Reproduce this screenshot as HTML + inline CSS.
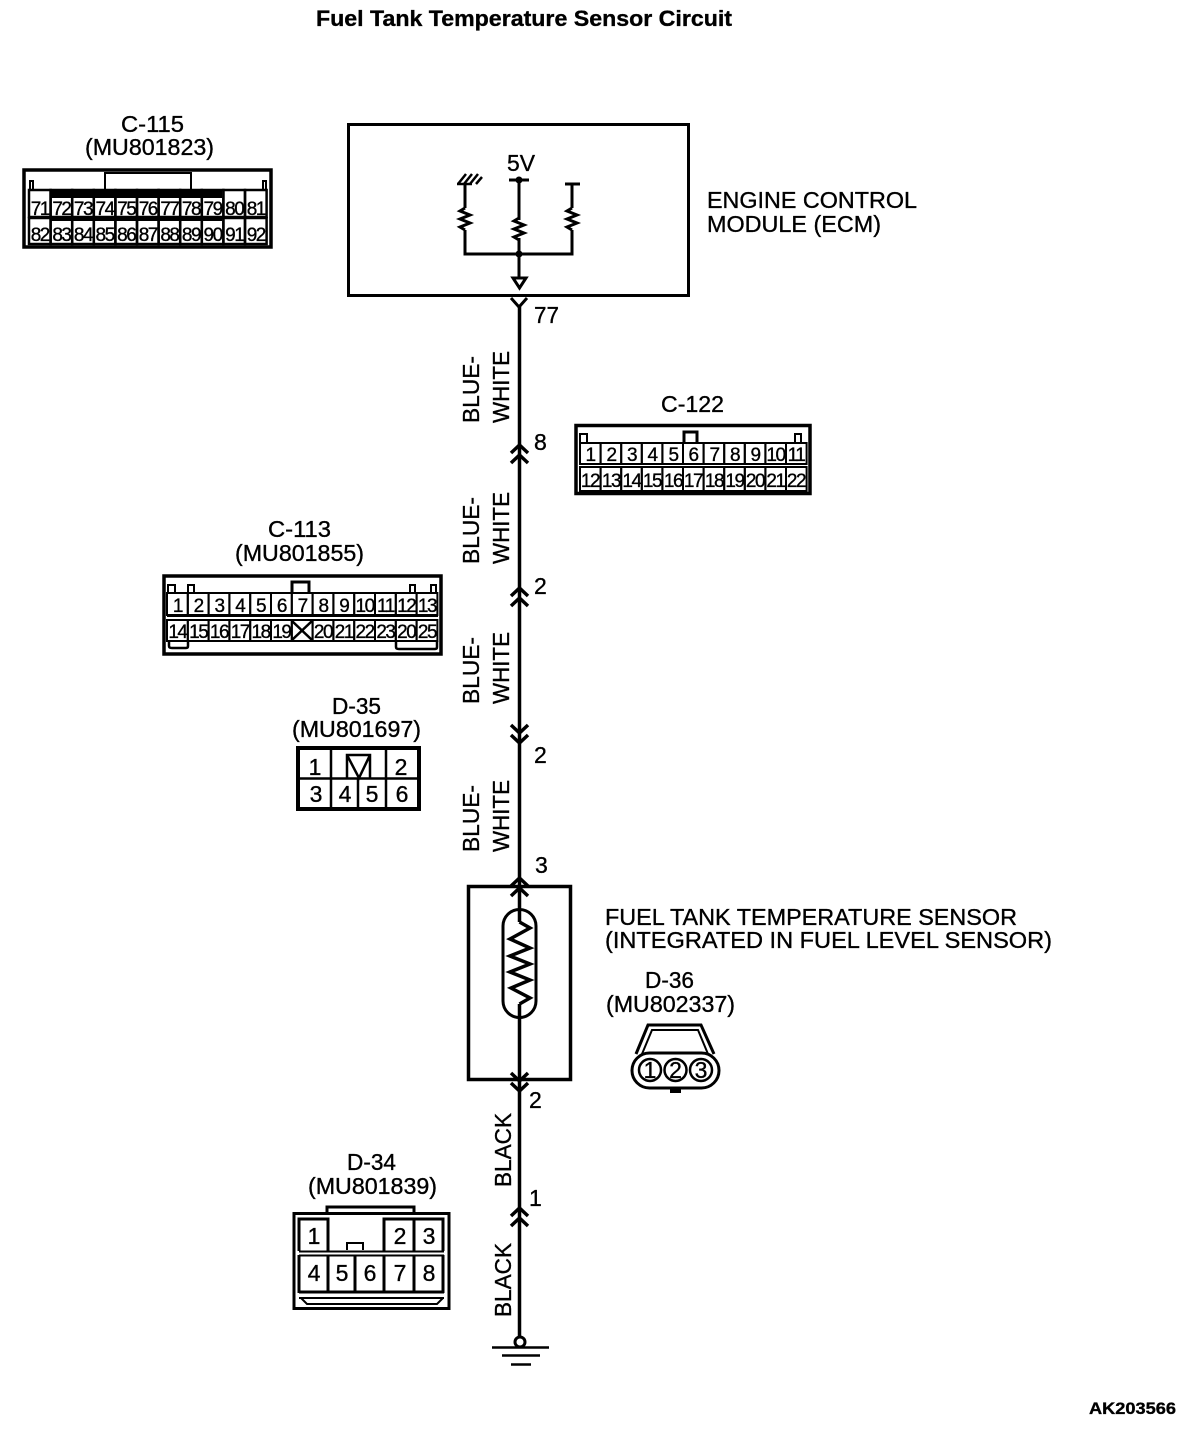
<!DOCTYPE html>
<html><head><meta charset="utf-8"><style>
html,body{margin:0;padding:0;background:#fff}
svg{display:block}
text{font-family:"Liberation Sans",sans-serif;fill:#000;font-size:23px;stroke:#000;stroke-width:.35px}
.c{font-size:19px;text-anchor:middle;letter-spacing:-1.5px}
.d{font-size:23px;text-anchor:middle}
.s{fill:none;stroke:#000}
</style></head><body>
<svg width="1200" height="1438" viewBox="0 0 1200 1438" xmlns="http://www.w3.org/2000/svg">
<text x="316" y="26" font-weight="bold" style="font-size:22px" textLength="416" lengthAdjust="spacingAndGlyphs">Fuel Tank Temperature Sensor Circuit</text>

<!-- C-115 -->
<text x="121" y="132" textLength="63" lengthAdjust="spacingAndGlyphs">C-115</text>
<text x="85" y="155" textLength="129" lengthAdjust="spacingAndGlyphs">(MU801823)</text>
<g class="s" stroke-width="3.500">
<rect x="24" y="170" width="247" height="77"/>
</g>
<g class="s" stroke-width="2">
<rect x="105" y="173" width="86" height="17"/>
<path d="M30 190V181h3v9M263 190V181h3v9"/>
</g>
<rect x="50" y="190" width="172" height="8"/>
<rect x="50" y="216" width="172" height="5"/>
<g class="s" stroke-width="2.500">
<rect x="29" y="190" width="21.600" height="27"/><rect x="50.600" y="190" width="21.600" height="27"/><rect x="72.200" y="190" width="21.600" height="27"/><rect x="93.800" y="190" width="21.600" height="27"/><rect x="115.400" y="190" width="21.600" height="27"/><rect x="137" y="190" width="21.600" height="27"/><rect x="158.600" y="190" width="21.600" height="27"/><rect x="180.200" y="190" width="21.600" height="27"/><rect x="201.800" y="190" width="21.600" height="27"/><rect x="223.400" y="190" width="21.600" height="27"/><rect x="245" y="190" width="21.600" height="27"/>
<rect x="29" y="218" width="21.600" height="26"/><rect x="50.600" y="218" width="21.600" height="26"/><rect x="72.200" y="218" width="21.600" height="26"/><rect x="93.800" y="218" width="21.600" height="26"/><rect x="115.400" y="218" width="21.600" height="26"/><rect x="137" y="218" width="21.600" height="26"/><rect x="158.600" y="218" width="21.600" height="26"/><rect x="180.200" y="218" width="21.600" height="26"/><rect x="201.800" y="218" width="21.600" height="26"/><rect x="223.400" y="218" width="21.600" height="26"/><rect x="245" y="218" width="21.600" height="26"/>
</g>
<text class="c" x="39.800" y="215">71</text><text class="c" x="61.400" y="215">72</text><text class="c" x="83" y="215">73</text><text class="c" x="104.600" y="215">74</text><text class="c" x="126.200" y="215">75</text><text class="c" x="147.800" y="215">76</text><text class="c" x="169.400" y="215">77</text><text class="c" x="191" y="215">78</text><text class="c" x="212.600" y="215">79</text><text class="c" x="234.200" y="215">80</text><text class="c" x="255.800" y="215">81</text>
<text class="c" x="39.800" y="241">82</text><text class="c" x="61.400" y="241">83</text><text class="c" x="83" y="241">84</text><text class="c" x="104.600" y="241">85</text><text class="c" x="126.200" y="241">86</text><text class="c" x="147.800" y="241">87</text><text class="c" x="169.400" y="241">88</text><text class="c" x="191" y="241">89</text><text class="c" x="212.600" y="241">90</text><text class="c" x="234.200" y="241">91</text><text class="c" x="255.800" y="241">92</text>

<!-- ECM -->
<rect class="s" stroke-width="3" x="348.500" y="124.500" width="340" height="171"/>
<text x="507" y="171" textLength="28" lengthAdjust="spacingAndGlyphs">5V</text>
<g class="s" stroke-width="3">
<path d="M457 184H472" stroke-width="2.500"/>
<path d="M458 184L466 174M464 184L472 174M470 184L478 174M476 184L482 177" stroke-width="2.500"/>
<path d="M465 184V208M519 180V220M572 184V208M465 230V254H572V230M519 238V277M509 180H529M565 184H580"/>
<path d="M465 208l-5 3l10 4l-10 4l10 4l-10 4l5 3" stroke-width="3"/>
<path d="M519 218l-5 3l10 4l-10 4l10 4l-10 4l5 3" stroke-width="3"/>
<path d="M572 208l-5 3l10 4l-10 4l10 4l-10 4l5 3" stroke-width="3"/>
<path d="M513 278H526L519.500 288Z" stroke-width="3"/>
<path d="M511 298L519 307L527 298"/>
</g>
<circle cx="519" cy="180" r="3.500"/><circle cx="519" cy="254" r="3.500"/>
<text x="707" y="208" textLength="210" lengthAdjust="spacingAndGlyphs">ENGINE CONTROL</text>
<text x="707" y="232" textLength="174" lengthAdjust="spacingAndGlyphs">MODULE (ECM)</text>

<!-- main wire -->
<path class="s" stroke-width="3.500" d="M519.500 305V922M519.500 1004V1338"/>
<g class="s" stroke-width="3.500">
<path d="M511 453L519.500 445L528 453M511 463L519.500 455L528 463"/>
<path d="M511 596L519.500 588L528 596M511 606L519.500 598L528 606"/>
<path d="M511 725L519.500 733L528 725M511 735L519.500 743L528 735"/>
<path d="M511 886L519.500 878L528 886M511 896L519.500 888L528 896"/>
<path d="M511 1073L519.500 1081L528 1073M511 1083L519.500 1091L528 1083"/>
<path d="M511 1216L519.500 1208L528 1216M511 1226L519.500 1218L528 1226"/>
</g>
<text x="534" y="323" textLength="25" lengthAdjust="spacingAndGlyphs">77</text>
<text x="534" y="450">8</text><text x="534" y="594">2</text><text x="534" y="763">2</text><text x="535" y="873">3</text>
<text x="529" y="1108">2</text><text x="529" y="1206">1</text>

<text transform="translate(479 423) rotate(-90)" textLength="67" lengthAdjust="spacingAndGlyphs">BLUE-</text>
<text transform="translate(509 423) rotate(-90)" textLength="72" lengthAdjust="spacingAndGlyphs">WHITE</text>
<text transform="translate(479 564) rotate(-90)" textLength="67" lengthAdjust="spacingAndGlyphs">BLUE-</text>
<text transform="translate(509 564) rotate(-90)" textLength="72" lengthAdjust="spacingAndGlyphs">WHITE</text>
<text transform="translate(479 704) rotate(-90)" textLength="67" lengthAdjust="spacingAndGlyphs">BLUE-</text>
<text transform="translate(509 704) rotate(-90)" textLength="72" lengthAdjust="spacingAndGlyphs">WHITE</text>
<text transform="translate(479 852) rotate(-90)" textLength="67" lengthAdjust="spacingAndGlyphs">BLUE-</text>
<text transform="translate(509 852) rotate(-90)" textLength="72" lengthAdjust="spacingAndGlyphs">WHITE</text>
<text transform="translate(511 1187) rotate(-90)" textLength="74" lengthAdjust="spacingAndGlyphs">BLACK</text>
<text transform="translate(511 1317) rotate(-90)" textLength="74" lengthAdjust="spacingAndGlyphs">BLACK</text>

<!-- C-122 -->
<text x="661" y="412" textLength="63" lengthAdjust="spacingAndGlyphs">C-122</text>
<rect class="s" stroke-width="3.500" x="576" y="425.500" width="234" height="68"/>
<g class="s" stroke-width="2">
<path d="M580 443V434h7v9M801 443V434h-6v9" stroke-width="2"/>
<path d="M684 443V432h13v11" stroke-width="3"/>
<rect x="580" y="443" width="20.600" height="21"/><rect x="600.600" y="443" width="20.600" height="21"/><rect x="621.200" y="443" width="20.600" height="21"/><rect x="641.800" y="443" width="20.600" height="21"/><rect x="662.400" y="443" width="20.600" height="21"/><rect x="683" y="443" width="20.600" height="21"/><rect x="703.600" y="443" width="20.600" height="21"/><rect x="724.200" y="443" width="20.600" height="21"/><rect x="744.800" y="443" width="20.600" height="21"/><rect x="765.400" y="443" width="20.600" height="21"/><rect x="786" y="443" width="20.600" height="21"/>
<rect x="580" y="467" width="20.600" height="24"/><rect x="600.600" y="467" width="20.600" height="24"/><rect x="621.200" y="467" width="20.600" height="24"/><rect x="641.800" y="467" width="20.600" height="24"/><rect x="662.400" y="467" width="20.600" height="24"/><rect x="683" y="467" width="20.600" height="24"/><rect x="703.600" y="467" width="20.600" height="24"/><rect x="724.200" y="467" width="20.600" height="24"/><rect x="744.800" y="467" width="20.600" height="24"/><rect x="765.400" y="467" width="20.600" height="24"/><rect x="786" y="467" width="20.600" height="24"/>
</g>
<text class="c" x="590" y="461">1</text><text class="c" x="611" y="461">2</text><text class="c" x="631.500" y="461">3</text><text class="c" x="652" y="461">4</text><text class="c" x="673" y="461">5</text><text class="c" x="693" y="461">6</text><text class="c" x="714" y="461">7</text><text class="c" x="734.500" y="461">8</text><text class="c" x="755" y="461">9</text><text class="c" x="775.500" y="461">10</text><text class="c" x="796" y="461">11</text>
<text class="c" x="590" y="487">12</text><text class="c" x="611" y="487">13</text><text class="c" x="631.500" y="487">14</text><text class="c" x="652" y="487">15</text><text class="c" x="673" y="487">16</text><text class="c" x="693" y="487">17</text><text class="c" x="714" y="487">18</text><text class="c" x="734.500" y="487">19</text><text class="c" x="755" y="487">20</text><text class="c" x="775.500" y="487">21</text><text class="c" x="796" y="487">22</text>

<!-- C-113 -->
<text x="268" y="537" textLength="63" lengthAdjust="spacingAndGlyphs">C-113</text>
<text x="235" y="561" textLength="129" lengthAdjust="spacingAndGlyphs">(MU801855)</text>
<rect class="s" stroke-width="3.500" x="164" y="576" width="277" height="78"/>
<g class="s" stroke-width="2">
<path d="M168 593V585h7v8M188 593V585h6v8M410 593V585h5v8M431 593V585h5v8" stroke-width="2"/>
<path d="M292 593V582h17v11" stroke-width="3"/>
<rect x="167" y="593" width="20.800" height="22"/><rect x="187.800" y="593" width="20.800" height="22"/><rect x="208.600" y="593" width="20.800" height="22"/><rect x="229.400" y="593" width="20.800" height="22"/><rect x="250.200" y="593" width="20.800" height="22"/><rect x="271" y="593" width="20.800" height="22"/><rect x="291.800" y="593" width="20.800" height="22"/><rect x="312.600" y="593" width="20.800" height="22"/><rect x="333.400" y="593" width="20.800" height="22"/><rect x="354.200" y="593" width="20.800" height="22"/><rect x="375" y="593" width="20.800" height="22"/><rect x="395.800" y="593" width="20.800" height="22"/><rect x="416.600" y="593" width="20.800" height="22"/>
<rect x="167" y="620" width="20.800" height="21"/><rect x="187.800" y="620" width="20.800" height="21"/><rect x="208.600" y="620" width="20.800" height="21"/><rect x="229.400" y="620" width="20.800" height="21"/><rect x="250.200" y="620" width="20.800" height="21"/><rect x="271" y="620" width="20.800" height="21"/><rect x="291.800" y="620" width="20.800" height="21"/><rect x="312.600" y="620" width="20.800" height="21"/><rect x="333.400" y="620" width="20.800" height="21"/><rect x="354.200" y="620" width="20.800" height="21"/><rect x="375" y="620" width="20.800" height="21"/><rect x="395.800" y="620" width="20.800" height="21"/><rect x="416.600" y="620" width="20.800" height="21"/>
<path d="M292 621L312 640M312 621L292 640" stroke-width="2.500"/>
<path d="M169 641v5q0 2 3 2h14q2 0 2-2v-5M396 641v6q0 2 3 2h36q2 0 2-2v-6" stroke-width="2.500"/>
</g>
<path d="M167 616H438" stroke="#000" stroke-width="2" fill="none"/>
<text class="c" x="177.400" y="612">1</text><text class="c" x="198.200" y="612">2</text><text class="c" x="219" y="612">3</text><text class="c" x="239.800" y="612">4</text><text class="c" x="260.600" y="612">5</text><text class="c" x="281.400" y="612">6</text><text class="c" x="302.200" y="612">7</text><text class="c" x="323" y="612">8</text><text class="c" x="343.800" y="612">9</text><text class="c" x="364.600" y="612">10</text><text class="c" x="385.400" y="612">11</text><text class="c" x="406.200" y="612">12</text><text class="c" x="427" y="612">13</text>
<text class="c" x="177.400" y="638">14</text><text class="c" x="198.200" y="638">15</text><text class="c" x="219" y="638">16</text><text class="c" x="239.800" y="638">17</text><text class="c" x="260.600" y="638">18</text><text class="c" x="281.400" y="638">19</text><text class="c" x="323" y="638">20</text><text class="c" x="343.800" y="638">21</text><text class="c" x="364.600" y="638">22</text><text class="c" x="385.400" y="638">23</text><text class="c" x="406.200" y="638">20</text><text class="c" x="427" y="638">25</text>

<!-- D-35 -->
<text x="332" y="714" textLength="49" lengthAdjust="spacingAndGlyphs">D-35</text>
<text x="292" y="737" textLength="129" lengthAdjust="spacingAndGlyphs">(MU801697)</text>
<rect class="s" stroke-width="4" x="298" y="748" width="121" height="61"/>
<g class="s" stroke-width="2.500">
<path d="M331 750V807M358 778V807M386 750V807M300 778.500H417"/>
<path d="M347 778V755H370V778M347 755L359 778L370 755"/>
</g>
<text class="d" x="315" y="775">1</text><text class="d" x="401" y="775">2</text>
<text class="d" x="316" y="802">3</text><text class="d" x="345" y="802">4</text><text class="d" x="372" y="802">5</text><text class="d" x="402" y="802">6</text>

<!-- sensor -->
<rect class="s" stroke-width="3.500" x="468.500" y="886.500" width="102" height="193"/>
<rect class="s" stroke-width="3" x="503" y="909.500" width="33" height="108" rx="16.500"/>
<path class="s" stroke-width="3.500" d="M519.500 922L530 928L510 939L530 948L510 956L530 964L510 972L530 980L511 988L530 998L519.500 1004"/>
<text x="605" y="925" textLength="412" lengthAdjust="spacingAndGlyphs">FUEL TANK TEMPERATURE SENSOR</text>
<text x="605" y="948" textLength="447" lengthAdjust="spacingAndGlyphs">(INTEGRATED IN FUEL LEVEL SENSOR)</text>

<!-- D-36 -->
<text x="645" y="988" textLength="49" lengthAdjust="spacingAndGlyphs">D-36</text>
<text x="606" y="1012" textLength="129" lengthAdjust="spacingAndGlyphs">(MU802337)</text>
<g class="s">
<path stroke-width="3" d="M636 1054L648 1025H701L714 1054"/>
<path stroke-width="2" d="M642 1054L652 1030H698L708 1054"/>
<rect stroke-width="3" x="632" y="1053" width="87" height="35" rx="17.500"/>
<circle stroke-width="2.500" cx="650" cy="1070" r="11"/><circle stroke-width="2.500" cx="675.500" cy="1070" r="11"/><circle stroke-width="2.500" cx="701" cy="1070" r="11"/>
</g>
<rect x="670" y="1088" width="11" height="5"/>
<text class="d" x="650" y="1078">1</text><text class="d" x="675.500" y="1078">2</text><text class="d" x="701" y="1078">3</text>

<!-- D-34 -->
<text x="347" y="1170" textLength="49" lengthAdjust="spacingAndGlyphs">D-34</text>
<text x="308" y="1194" textLength="129" lengthAdjust="spacingAndGlyphs">(MU801839)</text>
<g class="s" stroke-width="3">
<rect x="294" y="1213.500" width="155" height="95"/>
<path d="M327 1213V1207H414V1213"/>
<path d="M299 1251V1219H328V1251M414 1251V1219H384V1251M443 1251V1219H414"/>
<path d="M299 1251.500H444M299 1255.500H444" stroke-width="2"/>
<path d="M299 1255V1293M328 1255V1293M355 1255V1293M384 1255V1293M414 1255V1293M443 1255V1293"/>
<path d="M299 1292H444"/>
<path d="M299 1298H444" stroke-width="2"/>
<path d="M301 1298L307 1304H437L443 1298" stroke-width="2"/>
<path d="M347 1250V1243H363V1250" stroke-width="2"/>
</g>
<text class="d" x="314" y="1244">1</text><text class="d" x="400" y="1244">2</text><text class="d" x="429" y="1244">3</text>
<text class="d" x="314" y="1281">4</text><text class="d" x="342" y="1281">5</text><text class="d" x="370" y="1281">6</text><text class="d" x="400" y="1281">7</text><text class="d" x="429" y="1281">8</text>

<!-- ground -->
<circle class="s" stroke-width="3" cx="520" cy="1342" r="5" style="fill:#fff"/>
<path class="s" stroke-width="2.500" d="M492 1347.500H549M502 1355.500H540M511 1364.500H531"/>

<text x="1089" y="1414" font-weight="bold" style="font-size:17px" textLength="87" lengthAdjust="spacingAndGlyphs">AK203566</text>
</svg>
</body></html>
